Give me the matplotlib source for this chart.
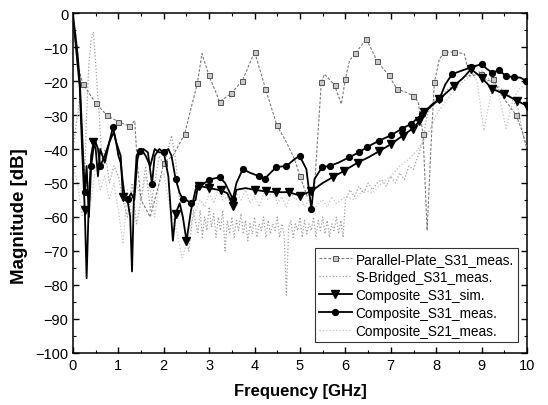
import matplotlib
matplotlib.use('Agg')
import matplotlib.pyplot as plt
from matplotlib.ticker import MultipleLocator

plt.rcParams['font.family'] = ['Liberation Sans', 'DejaVu Sans']

# Parallel-Plate_S31_meas.
pp_f = [0, 0.05, 0.1, 0.22, 0.5, 0.74, 1.0, 1.24, 1.36, 1.42, 1.5, 1.7, 1.9, 2.0, 2.2,
        2.46, 2.6, 2.74, 2.84, 2.99, 3.23, 3.49, 3.73, 4.0, 4.24, 4.49, 4.7, 4.88, 5.0,
        5.16, 5.32, 5.47, 5.54, 5.76, 5.91, 6.0, 6.09, 6.22, 6.46, 6.7, 6.95, 7.14, 7.33,
        7.48, 7.6, 7.71, 7.8, 7.9, 7.96, 8.07, 8.18, 8.4, 8.62, 8.73, 8.99, 9.12, 9.25,
        9.45, 9.76, 9.9, 10.0]
pp_db = [-1, -8, -15, -20.9, -26.5, -30, -32, -33.3, -31.7, -45, -55, -60, -50, -44, -42,
         -35.6, -28, -20.7, -11.9, -18.2, -26.1, -23.6, -19.9, -11.4, -22.3, -33, -38, -43, -48,
         -54, -51, -20.2, -18, -21.2, -26.8, -19.4, -14, -11.9, -7.6, -14.2, -18.3, -22.4, -23.3,
         -24.3, -26, -35.6, -64, -35, -20.4, -13.5, -11.6, -11.5, -12, -18.5, -18, -20, -19.4,
         -24.4, -30, -35, -40]
pp_marks = [0.22, 0.5, 0.74, 1.0, 1.24, 2.0, 2.46, 2.74, 2.99, 3.23, 3.49, 3.73, 4.0, 4.24,
            4.49, 5.0, 5.47, 5.76, 6.0, 6.22, 6.46, 6.7, 6.95, 7.14, 7.48, 7.71, 7.96, 8.18,
            8.4, 8.99, 9.25, 9.76]

# S-Bridged_S31_meas.
sb_f = [0, 0.1, 0.15, 0.2, 0.25, 0.3, 0.35, 0.4, 0.45, 0.5, 0.55, 0.6, 0.65, 0.7, 0.8, 0.9,
        1.0, 1.1, 1.2, 1.3, 1.4, 1.5, 1.6, 1.7, 1.8, 1.9, 2.0, 2.1, 2.17, 2.25, 2.35, 2.45,
        2.55, 2.65, 2.75,
        2.80, 2.85, 2.90, 2.95, 3.00, 3.05, 3.10, 3.15, 3.20, 3.25, 3.30, 3.35, 3.40, 3.45,
        3.50, 3.55, 3.60, 3.65, 3.70, 3.75, 3.80, 3.85, 3.90, 3.95, 4.00, 4.05, 4.10, 4.15,
        4.20, 4.25, 4.30, 4.35, 4.40, 4.45, 4.50, 4.55, 4.60, 4.65, 4.70, 4.75, 4.80, 4.85,
        4.90, 4.95, 5.00, 5.05, 5.10, 5.15, 5.20, 5.25, 5.30, 5.35, 5.40, 5.45, 5.50, 5.55,
        5.60, 5.65, 5.70, 5.75, 5.80, 5.85, 5.90, 5.95, 6.00,
        6.1, 6.2, 6.3, 6.4, 6.5, 6.6, 6.7, 6.8, 6.9, 7.0, 7.1, 7.2, 7.3, 7.4, 7.5, 7.6,
        7.7, 7.8, 7.9, 8.0, 8.2, 8.4, 8.6, 8.8, 9.0, 9.2, 9.4, 9.6, 9.8, 9.9, 10.0]
sb_db = [-40, -30, -25, -35, -50, -30, -15, -8, -5.6, -15, -25, -35, -45, -40, -50, -45,
         -48, -55, -60, -50, -62, -55, -45, -58, -50, -42, -45, -40, -36, -42, -55, -63,
         -70, -58, -65,
         -58, -66, -60, -64, -57, -63, -59, -66, -60, -64, -58, -70, -61, -65,
         -60, -66, -61, -64, -59, -65, -61, -67, -62, -65, -60, -66, -62, -64,
         -60, -66, -61, -65, -62, -64, -60, -66, -62, -65, -83, -63, -61, -66,
         -62, -64, -60, -66, -61, -65, -62, -64, -60, -66, -61, -64, -60, -65,
         -61, -66, -62, -64, -60, -65, -61, -66, -55,
         -52, -54, -51, -53, -50, -52, -50, -49, -51, -48, -50, -47, -49, -45, -46, -42,
         -38, -30, -27, -25, -23, -21, -19, -18, -17, -20, -22, -24, -28, -35, -40]

# Composite_S31_sim.
sim_f = [0, 0.05, 0.1, 0.15, 0.2, 0.26, 0.3, 0.35, 0.4, 0.45, 0.5, 0.55, 0.6, 0.7, 0.8, 0.9,
         0.95, 1.0, 1.05, 1.1, 1.2, 1.26, 1.3, 1.34, 1.4, 1.5, 1.6, 1.7, 1.8, 1.9, 2.0, 2.1,
         2.2, 2.26, 2.35, 2.42, 2.5, 2.6, 2.7, 2.77, 3.0, 3.27, 3.4, 3.52, 3.6, 3.8, 4.0,
         4.25, 4.48, 4.75, 5.0, 5.25, 5.5, 5.72, 5.96, 6.27, 6.5, 6.75, 7.0, 7.26, 7.48,
         7.63, 7.74, 8.07, 8.4, 8.6, 8.77, 9.0, 9.23, 9.5, 9.78, 10.0]
sim_db = [-1, -8, -15, -22, -40, -58, -78, -55, -42, -38, -40, -48, -40, -44, -38, -35,
          -38, -40, -42, -54, -55, -60, -76, -55, -42, -40, -42, -45, -40, -41, -41, -48,
          -67, -59, -56, -60, -67, -58, -52, -50.8, -51.5, -52.2, -53, -56.7, -52, -51.5, -52,
          -52.5, -52.7, -52.7, -53.7, -52.4, -50, -48.3, -46.5, -44, -42.5, -40.6, -38.6, -36.1,
          -34, -31.8, -29.2, -25.3, -21.4, -19, -16.5, -19, -22.3, -23.8, -25.8, -27.3]
sim_marks = [0.26, 0.45, 1.1, 2.26, 2.5, 2.77, 3.0, 3.27, 3.52, 4.0, 4.25, 4.48, 4.75, 5.0,
             5.25, 5.72, 5.96, 6.27, 6.75, 7.0, 7.26, 7.48, 7.63, 7.74, 8.07, 8.4, 8.77,
             9.0, 9.23, 9.5, 9.78, 10.0]

# Composite_S31_meas.
meas_f = [0, 0.05, 0.1, 0.15, 0.2, 0.26, 0.3, 0.35, 0.4, 0.45, 0.5, 0.55, 0.6, 0.7, 0.8, 0.88,
          0.95, 1.0, 1.05, 1.1, 1.15, 1.21, 1.28, 1.35, 1.42, 1.47, 1.55, 1.65, 1.74, 1.8,
          1.9, 2.0, 2.1, 2.17, 2.26, 2.35, 2.42, 2.5, 2.6, 2.7, 2.75, 2.85, 3.0, 3.23, 3.35,
          3.52, 3.6, 3.74, 3.9, 4.1, 4.22, 4.35, 4.48, 4.7, 4.88, 4.99, 5.14, 5.25, 5.32,
          5.49, 5.65, 5.85, 6.09, 6.3, 6.48, 6.75, 7.0, 7.25, 7.45, 7.69, 7.9, 8.07, 8.2,
          8.35, 8.55, 8.77, 9.0, 9.12, 9.23, 9.38, 9.54, 9.71, 9.85, 9.98]
meas_db = [-1, -6, -12, -20, -35, -52.7, -45, -60, -45, -40, -38, -40, -45, -42, -38, -33.6,
           -38, -42, -44, -50, -55, -54.7, -53, -55, -43, -40.6, -40, -41, -50.3, -42,
           -40, -41, -40, -42, -48.8, -53, -54.7, -55, -56, -55, -51, -50.5, -49, -48.3, -50,
           -54.7, -50, -45.9, -47, -48, -48.8, -47, -45.3, -45, -43, -42, -45.9, -57.6, -48.8,
           -45.3, -45, -44, -42.4, -41, -39.4, -37.5, -36, -34, -32.6, -29.7, -27, -25.3, -21,
           -18, -17, -16, -15, -16.5, -17.5, -16.9, -18.5, -18.9, -19, -19.9]
meas_marks = [0.26, 0.4, 0.6, 0.88, 1.21, 1.47, 1.74, 2.0, 2.26, 2.42, 2.6, 2.75, 3.0, 3.23,
              3.52, 3.74, 4.1, 4.22, 4.48, 4.7, 4.99, 5.25, 5.49, 5.65, 6.09, 6.3, 6.48,
              6.75, 7.0, 7.25, 7.45, 7.69, 8.07, 8.35, 8.77, 9.0, 9.23, 9.38, 9.54, 9.71, 9.98]

# Composite_S21_meas.
s21_f = [0, 0.1, 0.2, 0.3, 0.4, 0.5, 0.6, 0.7, 0.8, 0.9, 1.0, 1.1, 1.2, 1.3, 1.4, 1.5, 1.6,
         1.7, 1.8, 1.9, 2.0, 2.1, 2.2, 2.3, 2.4, 2.5, 2.6, 2.7, 2.8, 2.9, 3.0, 3.1, 3.2,
         3.3, 3.4, 3.5, 3.6, 3.7, 3.8, 3.9, 4.0, 4.1, 4.2, 4.3, 4.4, 4.5, 4.6, 4.7, 4.8,
         4.9, 5.0, 5.1, 5.2, 5.3, 5.4, 5.5, 5.6, 5.7, 5.8, 5.9, 6.0, 6.2, 6.4, 6.6, 6.8,
         7.0, 7.2, 7.4, 7.6, 7.8, 8.0, 8.2, 8.4, 8.6, 8.8, 8.9, 9.05, 9.2, 9.35, 9.54, 9.7,
         9.85, 10.0]
s21_db = [-45, -50, -60, -48, -55, -45, -52, -48, -55, -50, -58, -68, -52, -60, -50, -55,
          -48, -52, -60, -50, -47, -55, -60, -65, -72, -68, -62, -58, -55, -57, -53, -56,
          -52, -55, -54, -57, -53, -55, -52, -56, -54, -57, -53, -55, -52, -56, -54, -57,
          -53, -55, -54, -57, -55, -58, -56, -55, -57, -54, -56, -55, -54, -55, -52, -53,
          -50, -48, -45, -43, -40, -36, -30, -26, -23, -20, -18, -20, -34.6, -24, -22, -34,
          -25, -22, -21]


def marker_idx(freqs, marks):
    return [i for i, f in enumerate(freqs) if f in marks]


fig = plt.figure(figsize=(5.48, 4.06), dpi=100)
ax = fig.add_axes([0.1332, 0.1281, 0.8285, 0.8374])

ax.plot(s21_f, s21_db, color='#c4c4c4', linestyle=':', linewidth=0.9,
        label='Composite_S21_meas.', zorder=1)
ax.plot(sb_f, sb_db, color='#a0a0a0', linestyle=':', linewidth=0.9,
        label='S-Bridged_S31_meas.', zorder=2)
ax.plot(pp_f, pp_db, color='#7a7a7a', linestyle=(0, (2.5, 1.5)), linewidth=0.8,
        marker='s', markersize=3.6, markerfacecolor='#c8c8c8', markeredgecolor='#555555',
        markeredgewidth=0.7, markevery=marker_idx(pp_f, pp_marks),
        label='Parallel-Plate_S31_meas.', zorder=3)
ax.plot(sim_f, sim_db, color='black', linewidth=1.3, marker='v', markersize=5.5,
        markevery=marker_idx(sim_f, sim_marks), label='Composite_S31_sim.', zorder=4)
ax.plot(meas_f, meas_db, color='black', linewidth=1.3, marker='o', markersize=4.2,
        markevery=marker_idx(meas_f, meas_marks), label='Composite_S31_meas.', zorder=5)

ax.set_xlim(0, 10)
ax.set_ylim(-100, 0)
ax.xaxis.set_major_locator(MultipleLocator(1))
ax.xaxis.set_minor_locator(MultipleLocator(0.5))
ax.yaxis.set_major_locator(MultipleLocator(10))
ax.yaxis.set_minor_locator(MultipleLocator(5))
ax.tick_params(which='both', direction='in', top=True, right=True, labelsize=10.5)
ax.tick_params(which='major', length=4, width=1)
ax.tick_params(which='minor', length=2, width=0.8)
for s in ax.spines.values():
    s.set_linewidth(1.1)

ax.set_xlabel('Frequency [GHz]', fontsize=12, fontweight='bold', labelpad=8)
ax.set_ylabel('Magnitude [dB]', fontsize=13.5, fontweight='bold')
ax.yaxis.set_label_coords(-0.098, 0.405)

handles, labels = ax.get_legend_handles_labels()
order = [2, 1, 3, 4, 0]
leg = ax.legend([handles[i] for i in order], [labels[i] for i in order],
                loc='lower right', fontsize=9.8, frameon=True, fancybox=False,
                edgecolor='black', handlelength=2.4, borderpad=0.3, labelspacing=0.3,
                handletextpad=0.3, borderaxespad=0, bbox_to_anchor=(0.98, 0.032))
leg.get_frame().set_linewidth(0.8)

fig.savefig('out.png', dpi=100)
